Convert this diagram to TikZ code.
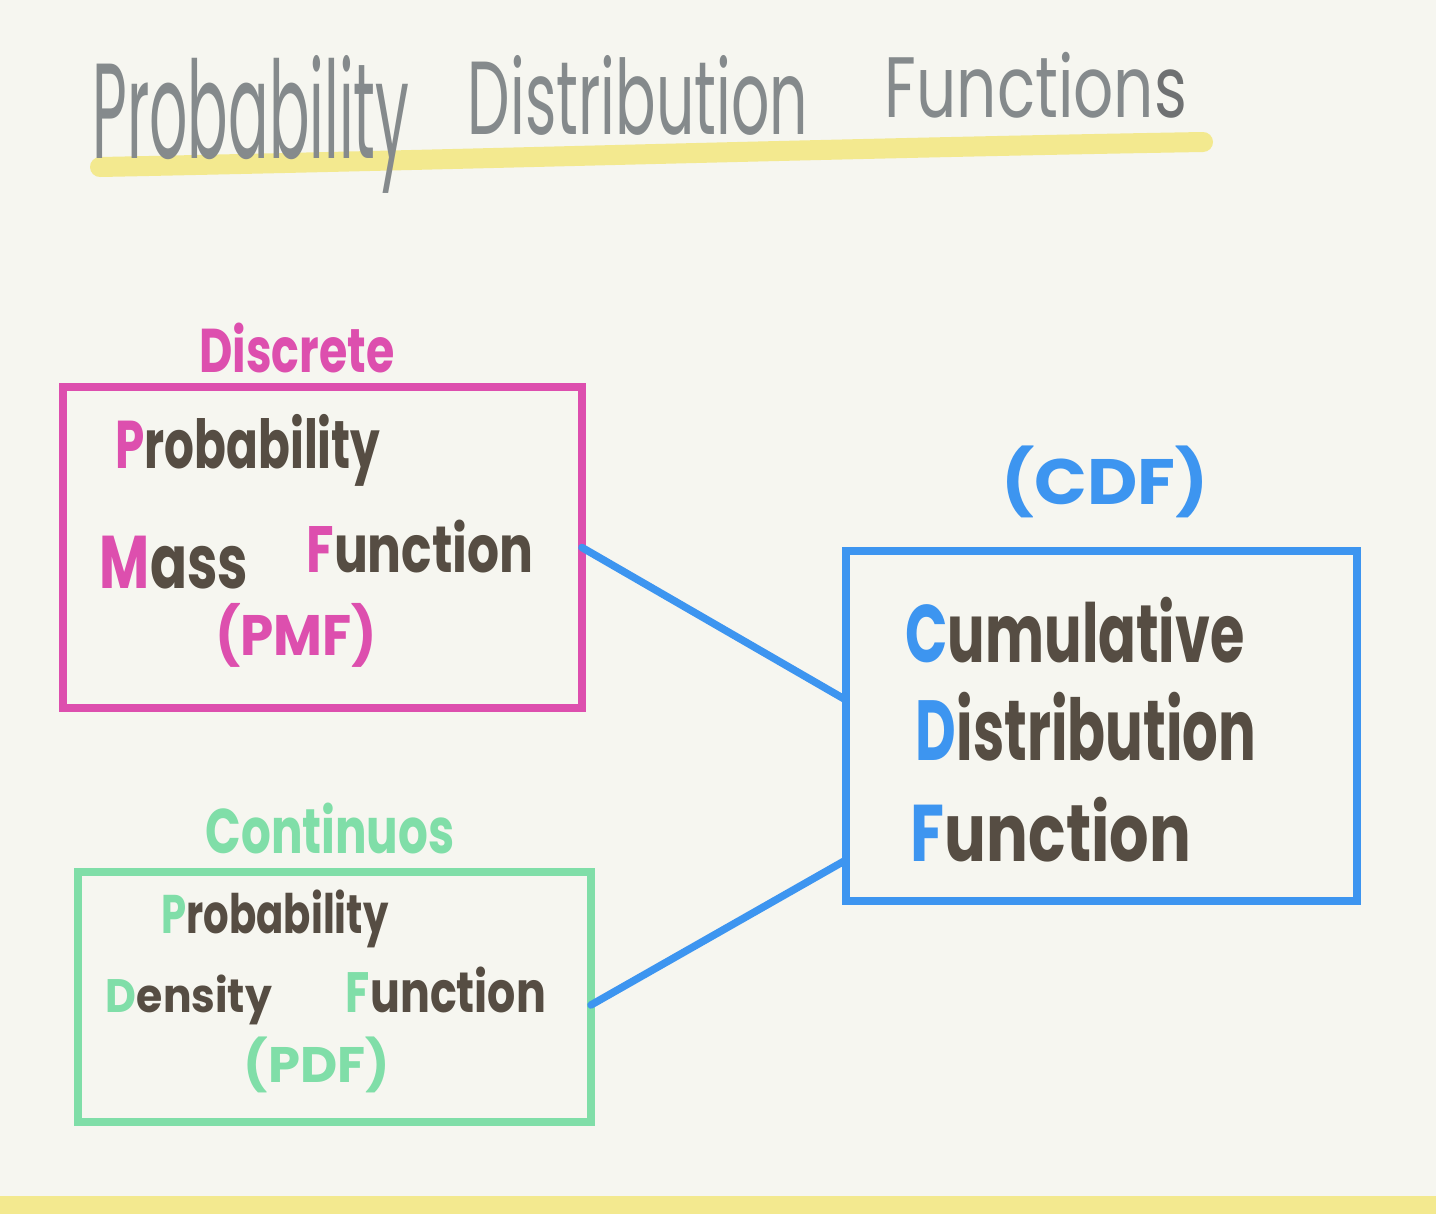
\documentclass[tikz,border=0pt]{standalone}
\usepackage{fontspec}
\setmainfont{Poppins}
\usepackage{graphicx}
\definecolor{bgc}{HTML}{F6F6F0}
\definecolor{ttl}{HTML}{858A8C}
\definecolor{ttls}{HTML}{6F7172}
\definecolor{pk}{HTML}{DD4FAE}
\definecolor{bl}{HTML}{3D95F0}
\definecolor{gr}{HTML}{80DEA8}
\definecolor{ink}{HTML}{564D43}
\definecolor{yel}{HTML}{F3E98F}
\newdimen\px \px=0.02cm
\newcommand\fitbox[3]{\resizebox*{#1\px}{#2\px}{#3}}
\tikzset{
  txt/.style={inner sep=0pt, outer sep=0pt, text=ink, font=\bfseries},
  ttltxt/.style={inner sep=0pt, outer sep=0pt, text=ttl, font=\mdseries},
  boxstyle/.style={draw=#1, line width=0.16cm, rectangle, inner sep=0pt, outer sep=0pt},
  conn/.style={draw=bl, line width=0.15cm, line cap=round}
}
\begin{document}
\begin{tikzpicture}[x=0.02cm, y=-0.02cm]
\fill[bgc] (0,0) rectangle (1436,1214);
\useasboundingbox (0,0) rectangle (1436,1214);
\fill[yel] (0,1196) rectangle (1436,1214);
% title underline
\draw[yel, line width=0.4cm, line cap=round] (100,167) .. controls (450,160) and (850,148) .. (1203,142);
% title
\node[ttltxt] (t1) at (251,124) {\fitbox{317}{138}{Probability}};
\node[ttltxt] (t2) at (638,95) {\fitbox{340}{80}{Distribution}};
\node[ttltxt] (t3) at (1036,85) {\fitbox{302}{66}{Function\textcolor{ttls}{s}}};
% boxes
\node[boxstyle=pk, minimum width=10.38cm, minimum height=6.42cm] (pmfbox) at (322.5,547.5) {};
\node[boxstyle=gr, minimum width=10.26cm, minimum height=5.0cm] (pdfbox) at (334.5,997) {};
\node[boxstyle=bl, minimum width=10.22cm, minimum height=7.0cm] (cdfbox) at (1101.5,726) {};
% connectors
\draw[conn] (pmfbox.east) -- ([yshift=0.52cm]cdfbox.west);
\draw[conn] ([yshift=-0.16cm]pdfbox.east) -- ([yshift=-2.68cm]cdfbox.west);
% labels above boxes
\node[txt, text=pk] (disc) at (297,348) {\fitbox{195}{50}{Discrete}};
\node[txt, text=gr] (cont) at (330,828) {\fitbox{249}{51}{Continuos}};
\node[txt, text=bl] (cdf) at (1105,482) {\fitbox{207}{72}{(CDF)}};
% PMF text
\node[txt] (p1) at (248,450) {\fitbox{265}{72}{\textcolor{pk}{P}robability}};
\node[txt] (p2) at (174,563) {\fitbox{148}{53}{\textcolor{pk}{M}ass}};
\node[txt] (p3) at (420,547) {\fitbox{227}{53}{\textcolor{pk}{F}unction}};
\node[txt, text=pk] (p4) at (296,635) {\fitbox{162}{64}{(PMF)}};
% PDF text
\node[txt] (d1) at (275,919) {\fitbox{227}{58}{\textcolor{gr}{P}robability}};
\node[txt] (d2) at (189,1000) {\fitbox{166}{50}{\textcolor{gr}{D}ensity}};
\node[txt] (d3) at (446,990) {\fitbox{200}{46}{\textcolor{gr}{F}unction}};
\node[txt, text=gr] (d4) at (317,1065) {\fitbox{146}{56}{(PDF)}};
% CDF text
\node[txt] (c1) at (1075,630) {\fitbox{339}{66}{\textcolor{bl}{C}umulative}};
\node[txt] (c2) at (1086,727) {\fitbox{340}{69}{\textcolor{bl}{D}istribution}};
\node[txt] (c3) at (1051,830) {\fitbox{280}{65}{\textcolor{bl}{F}unction}};
\end{tikzpicture}
\end{document}
